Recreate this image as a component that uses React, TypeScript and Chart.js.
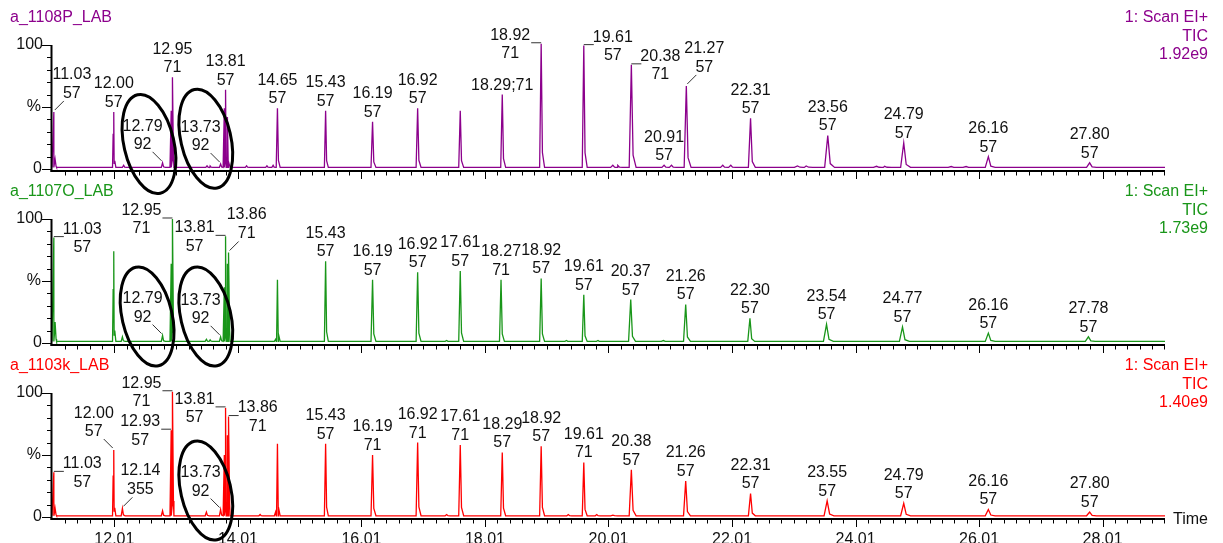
import React, { useEffect, useRef } from "react";
import { Chart, registerables } from "chart.js";

Chart.register(...registerables);

// ---------- axis ranges ----------
const X_MIN = 11.0;
const X_MAX = 29.02;
const X_TICK_VALUES = [12.01, 14.01, 16.01, 18.01, 20.01, 22.01, 24.01, 26.01, 28.01];
const Y_MIN = -1.6;
const Y_MAX = 138.7;

// ---------- panel headers ----------
const sampleNames = ["a_1108P_LAB", "a_1107O_LAB", "a_1103k_LAB"];
const scanFunction = ["1: Scan EI+", "1: Scan EI+", "1: Scan EI+"];
const traceKind = ["TIC", "TIC", "TIC"];
const fullScale = ["1.92e9", "1.73e9", "1.40e9"];
const baselinePct = [1.3, 1.3, 1.0];

// ---------- panel 1 (a_1108P_LAB) peaks ----------
const p1Time = [11.03, 11.05, 11.99, 12.0, 12.16, 12.79, 12.93, 12.95, 13.51, 13.56, 13.73, 13.79, 13.81, 13.84, 14.15, 14.48, 14.58, 14.65, 15.43, 16.19, 16.92, 17.61, 18.29, 18.92, 19.61, 20.08, 20.16, 20.38, 20.91, 21.03, 21.27, 21.86, 21.99, 22.31, 23.07, 23.21, 23.56, 24.35, 24.48, 24.79, 25.56, 25.8, 26.16, 27.8];
const p1Pct = [46, 8, 28, 46, 3, 5, 47, 74, 2.5, 2.5, 4, 49, 64, 42, 2.5, 2.5, 3, 49, 47, 38, 49, 47, 60, 101, 99.5, 3, 3, 84, 3, 3, 67, 3, 3, 41, 2.5, 2.5, 27, 2.2, 2.2, 21, 2, 2, 10, 5];
const p1LabelTime = ["11.03", "12.00", "12.79", "12.95", "13.73", "13.81", "14.65", "15.43", "16.19", "16.92", "18.29", "18.92", "19.61", "20.38", "20.91", "21.27", "22.31", "23.56", "24.79", "26.16", "27.80"];
const p1LabelIon = ["57", "57", "92", "71", "92", "57", "57", "57", "57", "57", "71", "71", "57", "71", "57", "57", "57", "57", "57", "57", "57"];

// ---------- panel 2 (a_1107O_LAB) peaks ----------
const p2Time = [11.03, 11.05, 11.99, 12.0, 12.14, 12.79, 12.93, 12.95, 13.5, 13.56, 13.73, 13.79, 13.81, 13.84, 13.86, 14.62, 14.65, 15.43, 16.19, 16.92, 17.39, 17.61, 18.27, 18.92, 19.33, 19.61, 19.84, 20.37, 20.9, 21.26, 22.3, 23.54, 24.77, 26.16, 27.78];
const p2Pct = [85, 17, 43, 74, 5, 6, 64, 100, 3, 2.5, 5, 45, 86, 64, 73, 3, 51, 66, 51, 57, 2, 58, 51, 52, 2, 39, 2, 35, 2, 31, 20, 15, 13, 8, 5];
const p2LabelTime = ["11.03", "12.79", "12.95", "13.73", "13.81", "13.86", "15.43", "16.19", "16.92", "17.61", "18.27", "18.92", "19.61", "20.37", "21.26", "22.30", "23.54", "24.77", "26.16", "27.78"];
const p2LabelIon = ["57", "92", "71", "92", "57", "71", "57", "57", "57", "57", "71", "57", "57", "57", "57", "57", "57", "57", "57", "57"];

// ---------- panel 3 (a_1103k_LAB) peaks ----------
const p3Time = [11.03, 11.05, 11.99, 12.0, 12.14, 12.79, 12.93, 12.95, 13.5, 13.73, 13.79, 13.81, 13.84, 13.86, 14.37, 14.62, 14.65, 15.43, 16.19, 16.92, 17.39, 17.61, 18.29, 18.92, 19.36, 19.61, 19.82, 20.08, 20.38, 21.26, 22.31, 23.55, 24.79, 26.16, 27.8];
const p3Pct = [36, 7, 33, 54, 7, 5, 70, 101, 4, 6, 50, 88, 66, 81, 2, 4, 59, 59, 50, 60, 2, 58, 52, 57, 2, 44, 2, 1.5, 38, 29, 19, 13, 11, 6, 4];
const p3LabelTime = ["11.03", "12.00", "12.14", "12.95", "12.93", "13.73", "13.81", "13.86", "15.43", "16.19", "16.92", "17.61", "18.29", "18.92", "19.61", "20.38", "21.26", "22.31", "23.55", "24.79", "26.16", "27.80"];
const p3LabelIon = ["57", "57", "355", "71", "57", "92", "57", "71", "57", "71", "71", "71", "57", "57", "71", "57", "57", "57", "57", "57", "57", "57"];

// ---------- styles / layout (not data) ----------
const FONT = '"Liberation Sans", Arial, Helvetica, sans-serif';
const COLORS = ["rgb(140,0,140)", "rgb(25,150,25)", "rgb(255,0,0)"];
// a = above, dl/dr = diagonal leader left/right, ul/ur = underscore leader left/right, s = single line "t;ion"
const p1LabelPlace = ["dr", "a", "dl", "a", "dl", "a", "a", "a", "a", "a", "s", "ul", "ur", "ur", "a", "dr", "a", "a", "a", "a", "a"];
const p2LabelPlace = ["ur", "dl", "ul", "dl", "ul", "dr", "a", "a", "a", "a", "a", "a", "a", "a", "a", "a", "a", "a", "a", "a"];
const p3LabelPlace = ["ur", "dl", "dr", "ul", "ul", "dl", "ul", "ur", "a", "a", "a", "a", "a", "a", "a", "a", "a", "a", "a", "a", "a", "a"];
const ELLIPSE_PANEL = [0, 0, 1, 1, 2];
const ELLIPSE_TIME = [12.57, 13.49, 12.54, 13.49, 13.49];
const ELLIPSE_PCT = [20.2, 24.4, 21.4, 21.4, 21.4];

const PANELS = [
  { time: p1Time, pct: p1Pct, lt: p1LabelTime, li: p1LabelIon, lp: p1LabelPlace },
  { time: p2Time, pct: p2Pct, lt: p2LabelTime, li: p2LabelIon, lp: p2LabelPlace },
  { time: p3Time, pct: p3Pct, lt: p3LabelTime, li: p3LabelIon, lp: p3LabelPlace },
];

function buildTrace(times: number[], pcts: number[], base: number) {
  const pts: { x: number; y: number }[] = [
    { x: X_MIN, y: base },
    { x: X_MAX, y: base },
  ];
  times.forEach((t, i) => {
    const h = pcts[i];
    const w = t < 16 ? 0.02 : t < 20 ? 0.025 : t < 23 ? 0.035 : 0.05;
    pts.push({ x: t - w, y: base });
    pts.push({ x: t, y: h });
    pts.push({ x: t + w * 0.8, y: base + (h - base) * 0.12 });
    pts.push({ x: t + w * 2.2, y: base });
  });
  pts.sort((a, b) => a.x - b.x);
  return pts;
}

function line(ctx: CanvasRenderingContext2D, x1: number, y1: number, x2: number, y2: number) {
  ctx.beginPath();
  ctx.moveTo(x1, y1);
  ctx.lineTo(x2, y2);
  ctx.stroke();
}

function drawPeakLabel(ctx: CanvasRenderingContext2D, ax: number, ay: number, t1: string, t2: string, place: string) {
  ctx.fillStyle = "#111";
  ctx.strokeStyle = "#333";
  ctx.lineWidth = 1;
  ctx.textAlign = "center";
  ctx.textBaseline = "middle";
  if (place === "s") {
    ctx.fillText(t1 + ";" + t2, ax, ay - 9.5);
    return;
  }
  const w1 = ctx.measureText(t1).width;
  let cx = ax;
  let y1 = ay - 28;
  let y2 = ay - 9.5;
  if (place === "dl") {
    cx = ax - 20; y1 = ay - 36.5; y2 = ay - 18;
    line(ctx, ax - 10, ay - 11, ax - 1, ay - 2);
  } else if (place === "dr") {
    cx = ax + 18; y1 = ay - 37.5; y2 = ay - 18.5;
    line(ctx, ax + 1, ay - 2, ax + 10, ay - 11);
  } else if (place === "ul") {
    cx = ax - 11 - w1 / 2; y1 = ay - 8.5; y2 = ay + 10;
    line(ctx, ax - 10, ay - 1, ax, ay - 1);
  } else if (place === "ur") {
    cx = ax + 9 + w1 / 2; y1 = ay - 8.5; y2 = ay + 10;
    line(ctx, ax, ay - 1, ax + 10, ay - 1);
  }
  ctx.fillText(t1, cx, y1);
  ctx.fillText(t2, cx, y2);
}

const panelPlugin = {
  id: "chromPanels",
  afterDatasetsDraw(chart: any) {
    const ctx: CanvasRenderingContext2D = chart.ctx;
    const xs = chart.scales.x;
    const left = xs.left;
    const right = xs.right;
    ctx.save();
    ctx.font = `16px ${FONT}`;
    for (let i = 0; i < 3; i++) {
      const ys = chart.scales["y" + i];
      const bottom = ys.bottom;
      const y0 = ys.getPixelForValue(0);
      const y100 = ys.getPixelForValue(100);
      // axis lines
      ctx.strokeStyle = "#000";
      ctx.lineWidth = 2;
      line(ctx, left - 0.5, y100, left - 0.5, bottom + 1);
      line(ctx, left - 1.5, bottom, right, bottom);
      // x ticks
      ctx.lineWidth = 1;
      for (let k = -4; ; k++) {
        const v = 12.01 + 0.2 * k;
        if (v > X_MAX + 1e-6) break;
        const px = Math.round(xs.getPixelForValue(v)) + 0.5;
        const len = k % 10 === 0 ? 8 : 4.5;
        line(ctx, px, bottom, px, bottom + len);
      }
      // y ticks
      for (let p = 0; p <= 100; p += 10) {
        const py = Math.round(ys.getPixelForValue(p)) + 0.5;
        const major = p % 50 === 0;
        line(ctx, major ? 42 : 47, py, left - 1, py);
      }
      ctx.fillStyle = "#111";
      ctx.textAlign = "right";
      ctx.textBaseline = "middle";
      ctx.fillText("100", 43, y100);
      ctx.fillText("%", 41, ys.getPixelForValue(50));
      ctx.fillText("0", 42, y0);
      // headers
      const ty = y0 - 151;
      ctx.fillStyle = COLORS[i];
      ctx.textAlign = "left";
      ctx.fillText(sampleNames[i], 10, ty);
      ctx.textAlign = "right";
      ctx.fillText(scanFunction[i], 1208, ty);
      ctx.fillText(traceKind[i], 1208, ty + 18.3);
      ctx.fillText(fullScale[i], 1208, ty + 36.6);
      // peak labels
      const p = PANELS[i];
      p.lt.forEach((t1, j) => {
        const rt = parseFloat(t1);
        const idx = p.time.findIndex((t) => Math.abs(t - rt) < 1e-6);
        if (idx < 0) return;
        const ax = xs.getPixelForValue(p.time[idx]);
        const ay = ys.getPixelForValue(p.pct[idx]);
        drawPeakLabel(ctx, ax, ay, t1, p.li[j], p.lp[j]);
      });
      if (i === 2) {
        ctx.fillStyle = "#111";
        ctx.textAlign = "left";
        ctx.textBaseline = "middle";
        ctx.fillText("Time", 1173, bottom + 0.5);
      }
    }
    // ellipses
    ctx.strokeStyle = "#000";
    ctx.lineWidth = 3;
    ELLIPSE_PANEL.forEach((pi, k) => {
      const ys = chart.scales["y" + pi];
      const cx = xs.getPixelForValue(ELLIPSE_TIME[k]);
      const cy = ys.getPixelForValue(ELLIPSE_PCT[k]);
      ctx.beginPath();
      ctx.ellipse(cx, cy, 25, 50.5, -0.227, 0, Math.PI * 2);
      ctx.stroke();
    });
    ctx.restore();
  },
};

export default function App() {
  const ref = useRef<HTMLCanvasElement>(null);
  useEffect(() => {
    const datasets = PANELS.map((p, i) => ({
      label: sampleNames[i],
      data: buildTrace(p.time, p.pct, baselinePct[i]),
      yAxisID: "y" + i,
      borderColor: COLORS[i],
      borderWidth: 1.3,
      pointRadius: 0,
      tension: 0,
      fill: false,
    }));
    const yScale = (weight: number) => ({
      type: "linear" as const,
      display: false,
      min: Y_MIN,
      max: Y_MAX,
      position: "left" as const,
      stack: "panels",
      stackWeight: 1,
      weight,
    });
    const chart = new Chart(ref.current!, {
      type: "line",
      data: { datasets },
      options: {
        responsive: false,
        animation: false,
        events: [],
        parsing: false as any,
        layout: { padding: { left: 52, right: 58, top: 0, bottom: 0 } },
        plugins: { legend: { display: false }, tooltip: { enabled: false }, title: { display: false } },
        scales: {
          x: {
            type: "linear",
            position: "bottom",
            min: X_MIN,
            max: X_MAX,
            grid: { display: false, drawTicks: false },
            border: { display: false },
            ticks: {
              color: "#111",
              font: { size: 16, family: FONT },
              padding: 11,
              maxRotation: 0,
              autoSkip: false,
              callback: (v: any) => Number(v).toFixed(2),
            },
            afterBuildTicks: (s: any) => {
              s.ticks = X_TICK_VALUES.map((v) => ({ value: v }));
            },
            afterFit: (s: any) => {
              s.height = 24;
            },
          },
          y0: yScale(3),
          y1: yScale(2),
          y2: yScale(1),
        } as any,
      },
      plugins: [panelPlugin],
    });
    return () => chart.destroy();
  }, []);
  return (
    <div style={{ position: "absolute", left: 0, top: -3, width: 1223, height: 546, background: "#fff" }}>
      <canvas ref={ref} width={1223} height={546} style={{ display: "block", width: 1223, height: 546 }} />
    </div>
  );
}
